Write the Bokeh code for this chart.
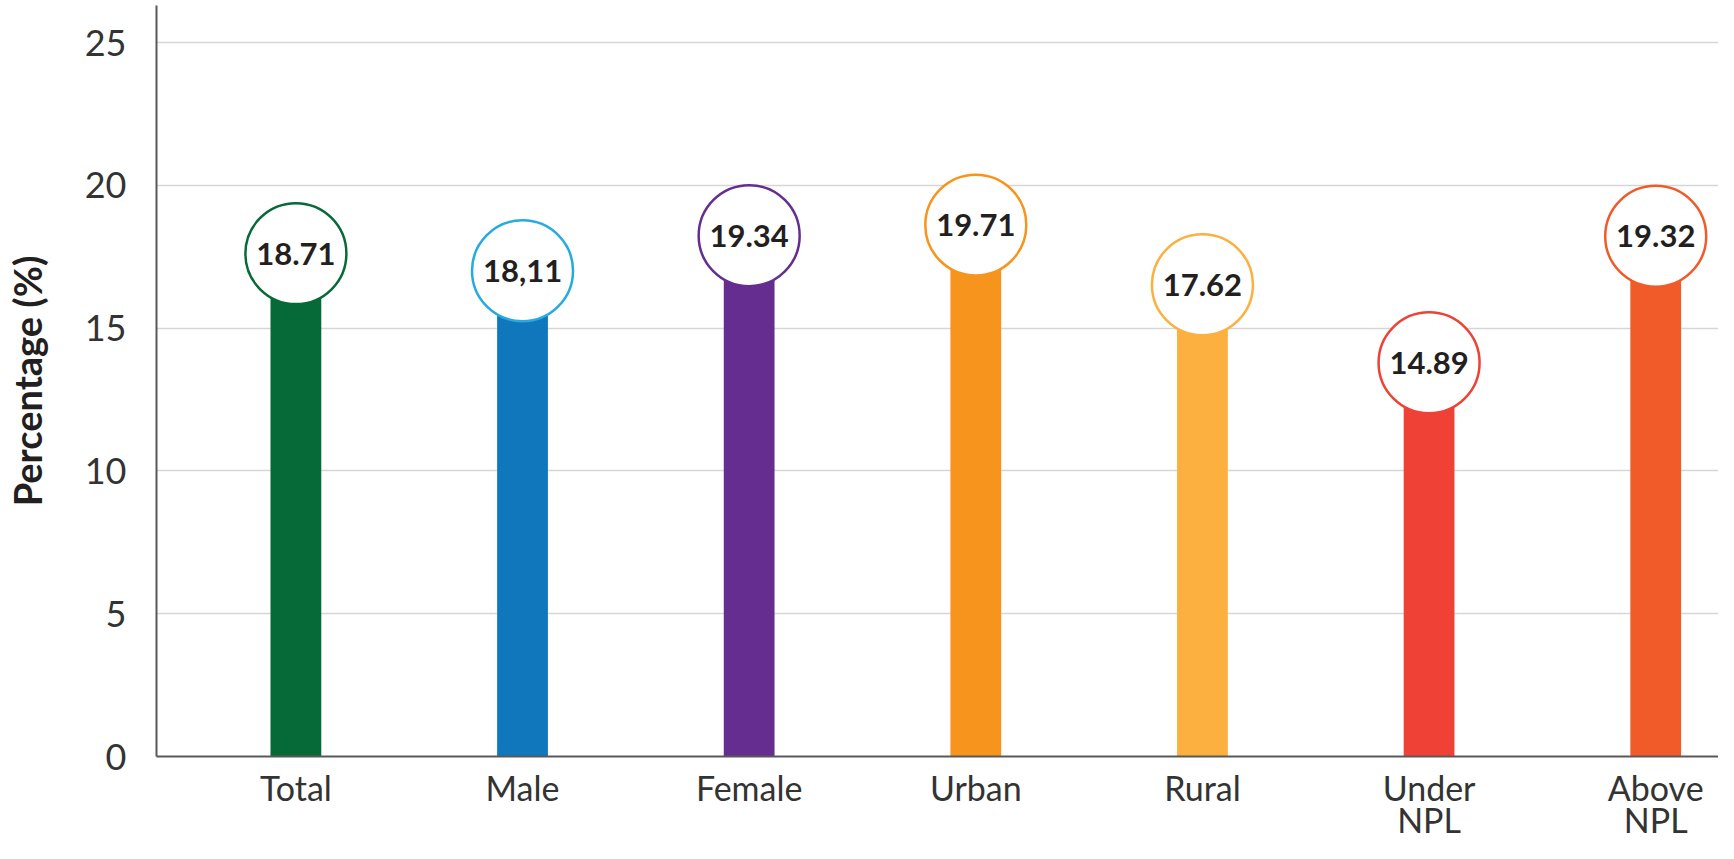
from bokeh.plotting import figure
from bokeh.models import Range1d, FixedTicker, ColumnDataSource
from bokeh.core.properties import value
from bokeh.embed import file_html
from bokeh.resources import INLINE

# ---- data ----
categories = ["Total", "Male", "Female", "Urban", "Rural", "Under\nNPL", "Above\nNPL"]
values = [18.71, 18.11, 19.34, 19.71, 17.62, 14.89, 19.32]
value_labels = ["18.71", "18,11", "19.34", "19.71", "17.62", "14.89", "19.32"]
bar_colors = ["#066a38", "#1077bc", "#652d90", "#f7941d", "#fbb040", "#ef4136", "#f15a29"]
ring_colors = ["#066a38", "#27aae1", "#652d90", "#f7941d", "#fbb040", "#ef4136", "#f15a29"]
y_ticks = [0, 5, 10, 15, 20, 25]

# badge sits slightly below the value (style offset, data units)
BADGE_DROP = 1.1

idx = list(range(len(categories)))
badge_y = [v - BADGE_DROP for v in values]

src = ColumnDataSource(dict(
    x=idx, top=badge_y, val=values, lab=value_labels,
    bar=bar_colors, ring=ring_colors,
))

p = figure(
    width=1718, height=843,
    x_range=Range1d(-0.615, 6.277), y_range=Range1d(0, 26.3),
    output_backend="svg", toolbar_location=None,
    min_border_left=150, min_border_top=5, min_border_right=0, min_border_bottom=40,
    background_fill_color="white", border_fill_color="white",
)
p.outline_line_color = None

p.vbar(x="x", top="top", bottom=0, width=0.224, fill_color="bar", line_color=None, source=src)
p.scatter(x="x", y="top", size=101, marker="circle", fill_color="white",
          line_color="ring", line_width=2.5, source=src)
p.text(x="x", y="top", text="lab", text_align="center", text_baseline="middle",
       text_font=value("Lato"), text_font_style="bold", text_font_size="31px",
       text_color="#231f20", source=src)

# y axis
p.yaxis.ticker = FixedTicker(ticks=y_ticks)
p.yaxis.major_tick_line_color = None
p.yaxis.minor_tick_line_color = None
p.yaxis.major_tick_out = 0
p.yaxis.major_label_standoff = 30
p.yaxis.major_label_text_font = "Lato"
p.yaxis.major_label_text_font_size = "36px"
p.yaxis.major_label_text_color = "#333333"
p.yaxis.axis_line_color = "#58595b"
p.yaxis.axis_line_width = 2
p.yaxis.axis_label = "Percentage (%)"
p.yaxis.axis_label_text_font = "Lato"
p.yaxis.axis_label_text_font_style = "bold"
p.yaxis.axis_label_text_font_size = "38px"
p.yaxis.axis_label_text_color = "#231f20"
p.yaxis.axis_label_standoff = 32

# x axis
p.xaxis.ticker = FixedTicker(ticks=idx)
p.xaxis.major_label_overrides = {i: c for i, c in zip(idx, categories)}
p.xaxis.major_tick_line_color = None
p.xaxis.minor_tick_line_color = None
p.xaxis.major_tick_out = 0
p.xaxis.major_label_standoff = 10
p.xaxis.major_label_text_font = "Lato"
p.xaxis.major_label_text_font_size = "34px"
p.xaxis.major_label_text_line_height = 0.8
p.xaxis.major_label_text_color = "#333333"
p.xaxis.axis_line_color = "#58595b"
p.xaxis.axis_line_width = 2

p.xgrid.grid_line_color = None
p.ygrid.grid_line_color = "#d6d6d6"
p.ygrid.grid_line_width = 1.5

open("out.html", "w").write(file_html(p, INLINE))
